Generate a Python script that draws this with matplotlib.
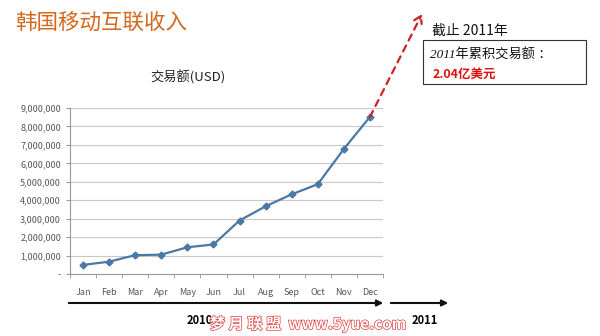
import matplotlib
matplotlib.use("Agg")
import matplotlib.pyplot as plt
import matplotlib.patches as mpatches
import matplotlib.patheffects as pe
from matplotlib.ticker import FuncFormatter

plt.rcParams['font.family'] = ['Noto Sans CJK SC', 'DejaVu Sans']

months = ["Jan", "Feb", "Mar", "Apr", "May", "Jun",
          "Jul", "Aug", "Sep", "Oct", "Nov", "Dec"]
volume = [490000, 670000, 1020000, 1050000, 1450000, 1600000,
          2900000, 3670000, 4320000, 4870000, 6780000, 8520000]
y_ticks = [0, 1000000, 2000000, 3000000, 4000000, 5000000,
           6000000, 7000000, 8000000, 9000000]
year_labels = ["2010", "2011"]

W, H = 600, 336
fig = plt.figure(figsize=(6, 3.36), dpi=100)
ax = fig.add_axes([70 / W, 1 - 274 / H, (383 - 70) / W, (274 - 108) / H])

x = list(range(len(months)))
ax.plot(x, volume, color="#4a79a5", linewidth=1.6, marker="D",
        markersize=3.5, zorder=3)

ax.set_xlim(-0.5, len(months) - 0.5)
ax.set_ylim(0, 9000000)
ax.set_yticks(y_ticks)
ax.yaxis.set_major_formatter(FuncFormatter(lambda v, p: "-" if v == 0 else f"{int(v):,}"))
ax.set_xticks(x)
ax.set_xticklabels(months)
ax.set_xticks([i - 0.5 for i in range(len(months) + 1)], minor=True)
ax.tick_params(axis="x", which="major", length=0, pad=10, labelsize=6.5, colors="#555555")
ax.tick_params(axis="x", which="minor", length=3, color="#999999")
ax.tick_params(axis="y", length=3, color="#999999", labelsize=6.5, labelcolor="#555555")
ax.grid(axis="y", color="#c8c8c8", linewidth=0.8)
ax.set_axisbelow(True)
for s in ["top", "right"]:
    ax.spines[s].set_visible(False)
for s in ["left", "bottom"]:
    ax.spines[s].set_color("#999999")

# titles
fig.text(15 / W, 1 - 23 / H, "韩国移动互联收入", color="#d2691e", fontsize=15.5,
         va="center", ha="left")
fig.text(188 / W, 1 - 77 / H, "交易额(USD)", color="#222222", fontsize=9.5,
         va="center", ha="center")

# dashed arrow to 2011
ax.annotate("", xy=(422 / W, 1 - 14 / H), xycoords="figure fraction",
            xytext=(11, volume[-1]), textcoords="data",
            arrowprops=dict(arrowstyle="->,head_length=0.5,head_width=0.3",
                            color="#cc2222", lw=1.6,
                            linestyle=(0, (3, 2.5)), shrinkA=0, shrinkB=0))

fig.text(432 / W, 1 - 31 / H, "截止 2011年", fontsize=10, color="#111111",
         va="center", ha="left")
box = mpatches.Rectangle((423 / W, 1 - 84 / H), (586 - 423) / W, (84 - 40) / H,
                         transform=fig.transFigure, fill=False, edgecolor="#333333",
                         linewidth=0.8)
fig.patches.append(box)
fig.text(430 / W, 1 - 55 / H, "2011年累积交易额 ：", fontsize=9.5, style="italic",
         family=["Liberation Serif", "Noto Sans CJK SC"], color="#111111",
         va="center", ha="left")
fig.text(433 / W, 1 - 74 / H, "2.04亿美元", fontsize=9, fontweight="bold",
         color="#dd1111", va="center", ha="left")

# timeline
fig.patches.append(mpatches.FancyArrowPatch(
    (66 / W, 1 - 303 / H), (386 / W, 1 - 303 / H), transform=fig.transFigure,
    arrowstyle="-|>", mutation_scale=9, color="#111111", lw=1.5))
fig.patches.append(mpatches.FancyArrowPatch(
    (388 / W, 1 - 303 / H), (451 / W, 1 - 303 / H), transform=fig.transFigure,
    arrowstyle="-|>", mutation_scale=9, color="#111111", lw=1.5))
fig.text(200 / W, 1 - 321 / H, year_labels[0], fontsize=8, fontweight="bold",
         ha="center", va="center")
fig.text(425 / W, 1 - 321 / H, year_labels[1], fontsize=8, fontweight="bold",
         ha="center", va="center")

# watermark
fig.text(308 / W, 1 - 324 / H, "梦 月 联 盟  www.5yue.com", fontsize=11,
         color="white", ha="center", va="center", fontweight="bold",
         path_effects=[pe.withStroke(linewidth=1.0, foreground="#e04040")])

fig.savefig("out.png", dpi=100)
